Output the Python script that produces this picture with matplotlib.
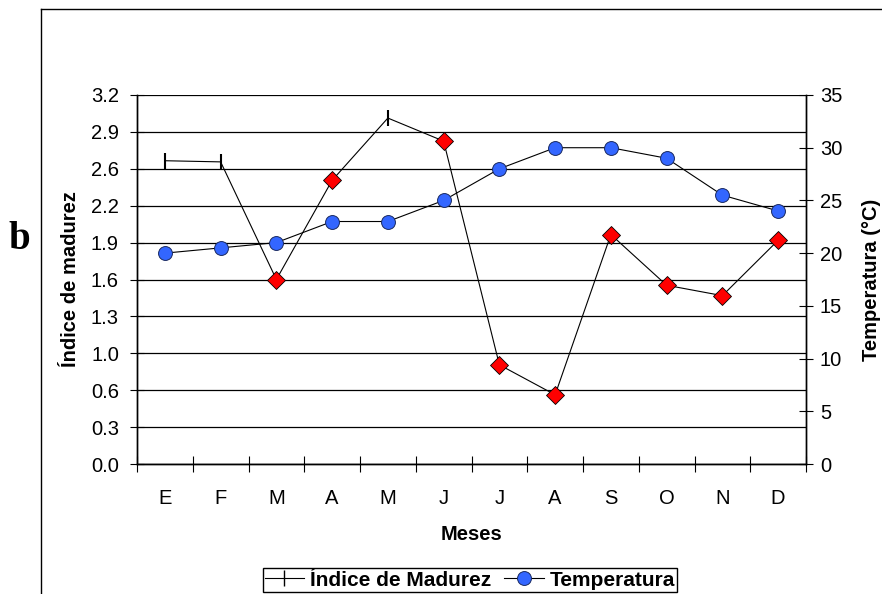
import matplotlib.pyplot as plt
from matplotlib.lines import Line2D
import numpy as np

plt.rcParams['font.family'] = ['Liberation Sans', 'DejaVu Sans']

meses = ["E", "F", "M", "A", "M", "J", "J", "A", "S", "O", "N", "D"]
indice_madurez = [2.63, 2.62, 1.60, 2.46, 3.00, 2.80, 0.86, 0.60, 1.99, 1.55, 1.46, 1.94]
temperatura = [20.0, 20.5, 21.0, 23.0, 23.0, 25.0, 28.0, 30.0, 30.0, 29.0, 25.5, 24.0]
# months whose point is drawn as a red diamond in the original
con_rombo = [2, 3, 5, 6, 7, 8, 9, 10, 11]
con_raya = [i for i in range(len(meses)) if i not in con_rombo]

W, H = 882, 594
fig = plt.figure(figsize=(W / 100, H / 100), dpi=100)
ax = fig.add_axes([137 / W, 1 - 464 / H, (806 - 137) / W, (464 - 95) / H])
ax2 = ax.twinx()

x = np.arange(len(meses))

# gridlines (left axis)
yticks = np.arange(0, 11) * 0.32
ax.set_ylim(0, 3.2)
ax.set_yticks(yticks)
ax.set_yticklabels([f"{v:.1f}" for v in yticks])
ax.yaxis.grid(True, color='black', linewidth=0.9)
ax.set_axisbelow(True)

ax.plot(x, indice_madurez, color='black', linewidth=0.8, marker='|',
        markevery=con_raya, markersize=11, markeredgewidth=1.5,
        label='Índice de Madurez')
ax.plot(x[con_rombo], np.array(indice_madurez)[con_rombo], linestyle='none',
        marker='D', markersize=9.5, markerfacecolor='#ff0000',
        markeredgecolor='black', markeredgewidth=0.6, zorder=5)

ax2.plot(x, temperatura, color='black', linewidth=0.8, marker='o',
         markersize=10, markerfacecolor='#3366ff', markeredgecolor='#1a2a60',
         markeredgewidth=0.7, label='Temperatura')
ax2.set_ylim(0, 35)
ax2.set_yticks(np.arange(0, 36, 5))

ax.set_xlim(-0.5, 11.5)
ax.set_xticks(np.arange(-0.5, 12, 1))
ax.set_xticklabels([])
ax.set_xticks(x, minor=True)
ax.set_xticklabels(meses, minor=True)
ax.tick_params(axis='x', which='major', direction='inout', length=11, width=0.8)
ax.tick_params(axis='x', which='minor', length=0, labelsize=14.5, pad=18)
ax.tick_params(axis='y', direction='inout', length=10, width=0.8, labelsize=14.5, pad=8)
ax2.tick_params(axis='y', direction='inout', length=10, width=0.8, labelsize=14.5, pad=5)

for a in (ax, ax2):
    a.spines['top'].set_visible(False)
    for s in ('left', 'right', 'bottom'):
        a.spines[s].set_linewidth(1.0)

ax.set_xlabel('Meses', fontsize=14.5, fontweight='bold', labelpad=12)
ax.set_ylabel('Índice de madurez', fontsize=14.5, fontweight='bold', labelpad=8)
ax2.set_ylabel('Temperatura (°C)', fontsize=14.5, fontweight='bold', labelpad=14)

h1 = Line2D([], [], color='black', linewidth=0.8, marker='|', markersize=11,
            markeredgewidth=1.0)
h2 = Line2D([], [], color='black', linewidth=0.8, marker='o', markersize=10,
            markerfacecolor='#3366ff', markeredgecolor='#1a2a60', markeredgewidth=0.7)
fig.legend([h1, h2], ['Índice de Madurez', 'Temperatura'], ncol=2,
           loc='center', bbox_to_anchor=(470 / W, 1 - 580 / H),
           frameon=True, fancybox=False, edgecolor='black', framealpha=1,
           prop={'size': 15, 'weight': 'bold'}, handlelength=1.9,
           handletextpad=0.3, columnspacing=0.6, borderpad=0.1)

fig.text(19 / W, 1 - 240 / H, 'b', fontsize=28, fontweight='bold',
         family='Liberation Serif', ha='center', va='center')

# outer frame of the original figure
fig.add_artist(Line2D([41 / W, 41 / W], [0, 1 - 9 / H], color='black',
                      linewidth=1.0, transform=fig.transFigure))
fig.add_artist(Line2D([41 / W, 1], [1 - 9 / H, 1 - 9 / H], color='black',
                      linewidth=1.0, transform=fig.transFigure))

fig.savefig('out.png', dpi=100)
